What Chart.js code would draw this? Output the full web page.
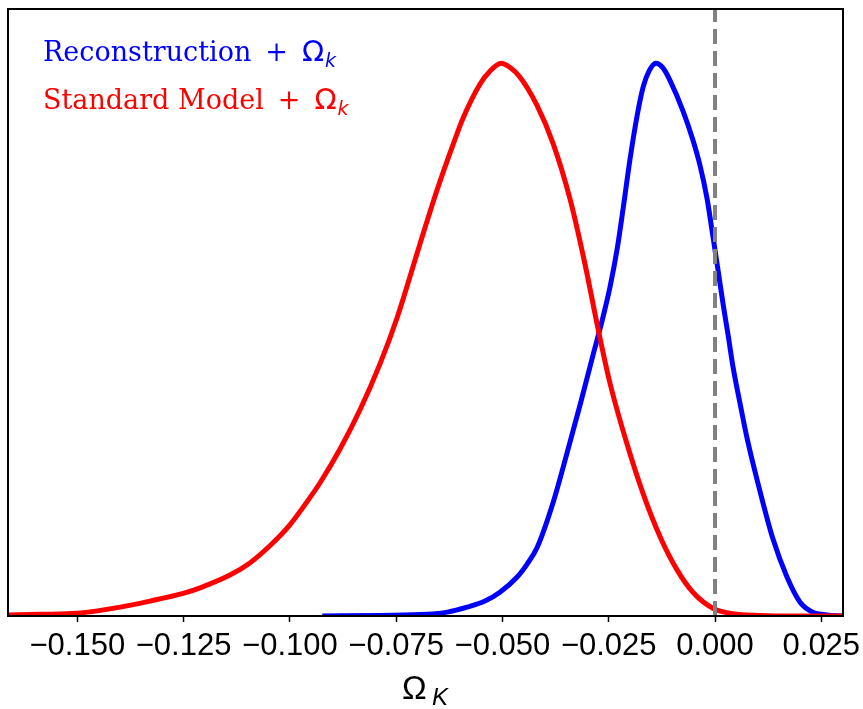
<!DOCTYPE html>
<html>
<head>
<meta charset="utf-8">
<script src="https://cdn.jsdelivr.net/npm/chart.js@4/dist/chart.umd.min.js"></script>
<style>
  html, body { margin: 0; padding: 0; background: #fff; }
  canvas { display: block; }
</style>
</head>
<body>
<canvas id="chart" width="863" height="709"></canvas>
<script>
// Ω_k posterior (peak normalised to 1)
const redX = [-0.1663, -0.1587, -0.1500, -0.1399, -0.1329, -0.1251, -0.1211, -0.1141, -0.1094, -0.1047,
              -0.1002, -0.0952, -0.0929, -0.0882, -0.0835, -0.0788, -0.0748, -0.0694, -0.0654, -0.0616,
              -0.0593, -0.0553, -0.0529, -0.0503, -0.0482, -0.0459, -0.0419, -0.0381, -0.0341, -0.0306,
              -0.0275, -0.0247, -0.0207, -0.0169, -0.0129, -0.0089, -0.0052, -0.0005, 0.0042, 0.0106,
              0.0183, 0.0301];
const redY = [0.002, 0.003, 0.005, 0.016, 0.027, 0.041, 0.051, 0.074, 0.096, 0.127,
              0.163, 0.215, 0.241, 0.302, 0.373, 0.456, 0.539, 0.673, 0.770, 0.853,
              0.900, 0.962, 0.986, 1.000, 0.992, 0.975, 0.924, 0.855, 0.754, 0.637,
              0.519, 0.421, 0.311, 0.221, 0.143, 0.083, 0.043, 0.014, 0.004, 0.001,
              0.0, 0.0];

const blueX = [-0.0924, -0.0788, -0.0677, -0.0630, -0.0583, -0.0541, -0.0506, -0.0466, -0.0442, -0.0419,
               -0.0381, -0.0348, -0.0317, -0.0287, -0.0266, -0.0247, -0.0230, -0.0216, -0.0200, -0.0183,
               -0.0169, -0.0155, -0.0139, -0.0122, -0.0106, -0.0075, -0.0052, -0.0035, -0.0019, -0.0005,
               0.0007, 0.0019, 0.0031, 0.0042, 0.0059, 0.0075, 0.0106, 0.0136, 0.0169, 0.0200,
               0.0230, 0.0263, 0.0301];
const blueY = [0.0, 0.001, 0.003, 0.007, 0.016, 0.027, 0.043, 0.070, 0.094, 0.123,
               0.205, 0.295, 0.383, 0.472, 0.533, 0.595, 0.665, 0.738, 0.826, 0.906,
               0.957, 0.986, 1.000, 0.991, 0.969, 0.913, 0.861, 0.814, 0.756, 0.687,
               0.626, 0.564, 0.507, 0.452, 0.384, 0.323, 0.225, 0.140, 0.071, 0.025,
               0.007, 0.002, 0.0];

const xTicks = [-0.150, -0.125, -0.100, -0.075, -0.050, -0.025, 0.000, 0.025];
const xMin = -0.1663, xMax = 0.0301;
const yMin = 0, yMax = 1.098;

const legendItems = [
    { text: 'Reconstruction', color: '#0000ff' },
    { text: 'Standard Model', color: '#ff0000' }
];

const toPoints = (xs, ys) => xs.map((x, i) => ({ x: x, y: ys[i] }));

// frame, legend and axis title
const decorations = {
    id: 'decorations',
    afterDatasetsDraw(chart) {
        const { ctx, chartArea: a } = chart;
        ctx.save();
        ctx.strokeStyle = '#000';
        ctx.lineWidth = 2;
        ctx.strokeRect(a.left, a.top, a.right - a.left, a.bottom - a.top);
        ctx.restore();
    },
    afterDraw(chart) {
        const { ctx } = chart;
        ctx.save();
        ctx.textBaseline = 'alphabetic';
        legendItems.forEach((item, i) => {
            const y = 61 + i * 48;
            let x = 43;
            ctx.fillStyle = item.color;
            ctx.font = '27px "DejaVu Serif"';
            ctx.fillText(item.text, x, y);
            x += ctx.measureText(item.text).width + 14;
            ctx.fillText('+', x, y);
            x += ctx.measureText('+').width + 14;
            ctx.font = '29px "DejaVu Sans"';
            ctx.fillText('Ω', x, y);
            x += ctx.measureText('Ω').width + 1;
            ctx.font = 'italic 19px "DejaVu Sans"';
            ctx.fillText('k', x, y + 6);
        });

        // x title
        ctx.fillStyle = '#000';
        ctx.font = '33px "Liberation Sans"';
        ctx.fillText('Ω', 402, 699);
        ctx.font = 'italic 24px "Liberation Sans"';
        ctx.fillText('K', 432, 705);
        ctx.restore();
    }
};

new Chart(document.getElementById('chart'), {
    type: 'line',
    data: {
        datasets: [
            {
                label: 'Ω = 0',
                data: [{ x: 0, y: yMin }, { x: 0, y: yMax }],
                borderColor: '#808080',
                borderWidth: 4,
                borderDash: [15, 7],
                pointRadius: 0,
                order: 0
            },
            {
                label: 'Standard Model + Ω_k',
                data: toPoints(redX, redY),
                borderColor: '#ff0000',
                borderWidth: 5,
                pointRadius: 0,
                cubicInterpolationMode: 'monotone',
                order: 1
            },
            {
                label: 'Reconstruction + Ω_k',
                data: toPoints(blueX, blueY),
                borderColor: '#0000ff',
                borderWidth: 5,
                pointRadius: 0,
                cubicInterpolationMode: 'monotone',
                order: 2
            }
        ]
    },
    options: {
        responsive: false,
        animation: false,
        layout: { padding: { left: 8, top: 9, right: 20, bottom: 0 } },
        plugins: {
            legend: { display: false },
            tooltip: { enabled: false }
        },
        scales: {
            x: {
                type: 'linear',
                min: xMin,
                max: xMax,
                border: { display: false },
                grid: {
                    drawOnChartArea: false,
                    drawTicks: true,
                    tickLength: 6,
                    tickWidth: 1.5,
                    tickColor: '#000'
                },
                ticks: {
                    color: '#000',
                    padding: 6,
                    maxRotation: 0,
                    autoSkip: false,
                    font: { family: '"Liberation Sans"', size: 31 },
                    callback: v => (v < -1e-9 ? '\u2212' : '') + Math.abs(v).toFixed(3)
                },
                afterBuildTicks: scale => {
                    scale.ticks = xTicks.map(v => ({ value: v }));
                },
                afterFit: scale => {
                    scale.height = 93;
                    scale.paddingLeft = 0;
                    scale.paddingRight = 0;
                }
            },
            y: {
                display: false,
                min: yMin,
                max: yMax
            }
        }
    },
    plugins: [decorations]
});
</script>
</body>
</html>
